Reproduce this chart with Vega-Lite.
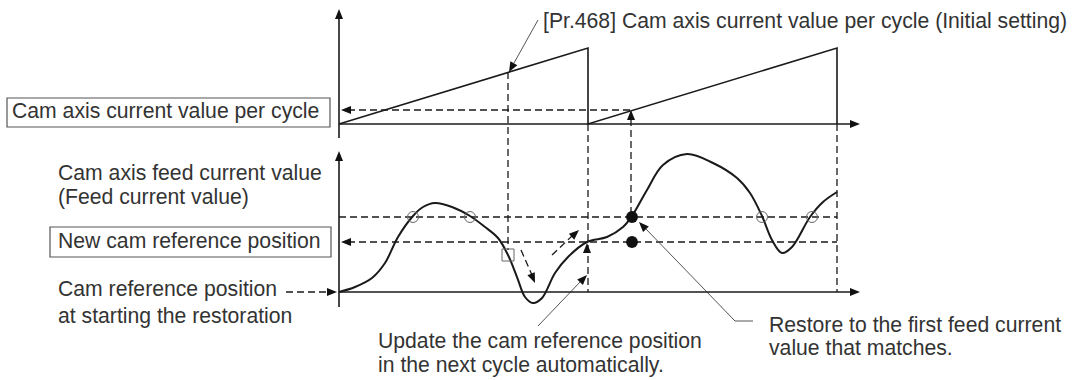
{
  "$schema": "https://vega.github.io/schema/vega-lite/v6.json",
  "width": 1079,
  "height": 380,
  "autosize": {"type": "fit", "contains": "padding"},
  "padding": 0,
  "background": "white",
  "config": {"view": {"stroke": null}},
  "datasets": {
    "solid": [
      {"id": "upper_vaxis", "o": 0, "x": 339, "y": 14},
      {"id": "upper_vaxis", "o": 1, "x": 339, "y": 138},
      {"id": "upper_haxis", "o": 0, "x": 339, "y": 124},
      {"id": "upper_haxis", "o": 1, "x": 852, "y": 124},
      {"id": "lower_vaxis", "o": 0, "x": 339, "y": 156},
      {"id": "lower_vaxis", "o": 1, "x": 339, "y": 307},
      {"id": "lower_haxis", "o": 0, "x": 339, "y": 292},
      {"id": "lower_haxis", "o": 1, "x": 852, "y": 292},
      {"id": "sawtooth", "o": 0, "x": 339, "y": 124},
      {"id": "sawtooth", "o": 1, "x": 588, "y": 48},
      {"id": "sawtooth", "o": 2, "x": 588, "y": 124},
      {"id": "sawtooth", "o": 3, "x": 837, "y": 48},
      {"id": "sawtooth", "o": 4, "x": 837, "y": 124}
    ],
    "curve": [
      {"o": 0, "x": 339, "y": 292},
      {"o": 1, "x": 355, "y": 287},
      {"o": 2, "x": 372, "y": 278},
      {"o": 3, "x": 385, "y": 263},
      {"o": 4, "x": 398, "y": 237},
      {"o": 5, "x": 413, "y": 216},
      {"o": 6, "x": 423, "y": 207},
      {"o": 7, "x": 435, "y": 203},
      {"o": 8, "x": 452, "y": 207},
      {"o": 9, "x": 470, "y": 216},
      {"o": 10, "x": 485, "y": 227},
      {"o": 11, "x": 498, "y": 238},
      {"o": 12, "x": 508, "y": 255},
      {"o": 13, "x": 517, "y": 277},
      {"o": 14, "x": 525, "y": 297},
      {"o": 15, "x": 533, "y": 303},
      {"o": 16, "x": 542, "y": 298},
      {"o": 17, "x": 555, "y": 273},
      {"o": 18, "x": 568, "y": 257},
      {"o": 19, "x": 587, "y": 242},
      {"o": 20, "x": 607, "y": 237},
      {"o": 21, "x": 623, "y": 227},
      {"o": 22, "x": 632, "y": 216},
      {"o": 23, "x": 647, "y": 190},
      {"o": 24, "x": 663, "y": 165},
      {"o": 25, "x": 687, "y": 154},
      {"o": 26, "x": 713, "y": 163},
      {"o": 27, "x": 737, "y": 178},
      {"o": 28, "x": 750, "y": 193},
      {"o": 29, "x": 762, "y": 216},
      {"o": 30, "x": 772, "y": 240},
      {"o": 31, "x": 782, "y": 253},
      {"o": 32, "x": 792, "y": 247},
      {"o": 33, "x": 810, "y": 217},
      {"o": 34, "x": 823, "y": 202},
      {"o": 35, "x": 837, "y": 192}
    ],
    "dashed": [
      {"id": "upper_level", "o": 0, "x": 348, "y": 110},
      {"id": "upper_level", "o": 1, "x": 631, "y": 110},
      {"id": "v_initial", "o": 0, "x": 508, "y": 72},
      {"id": "v_initial", "o": 1, "x": 508, "y": 250},
      {"id": "v_restore", "o": 0, "x": 631, "y": 119},
      {"id": "v_restore", "o": 1, "x": 631, "y": 217},
      {"id": "v_cycle1", "o": 0, "x": 588, "y": 124},
      {"id": "v_cycle1", "o": 1, "x": 588, "y": 292},
      {"id": "v_cycle2", "o": 0, "x": 837, "y": 124},
      {"id": "v_cycle2", "o": 1, "x": 837, "y": 292},
      {"id": "match_level", "o": 0, "x": 339, "y": 217},
      {"id": "match_level", "o": 1, "x": 837, "y": 217},
      {"id": "new_ref_level", "o": 0, "x": 348, "y": 242},
      {"id": "new_ref_level", "o": 1, "x": 837, "y": 242},
      {"id": "start_ref", "o": 0, "x": 286, "y": 292},
      {"id": "start_ref", "o": 1, "x": 328, "y": 292},
      {"id": "jump_down", "o": 0, "x": 521, "y": 250},
      {"id": "jump_down", "o": 1, "x": 532, "y": 275},
      {"id": "jump_up", "o": 0, "x": 552, "y": 255},
      {"id": "jump_up", "o": 1, "x": 572, "y": 236}
    ],
    "leaders": [
      {"id": "pr468", "o": 0, "x": 538, "y": 20},
      {"id": "pr468", "o": 1, "x": 514, "y": 63},
      {"id": "update", "o": 0, "x": 538, "y": 326},
      {"id": "update", "o": 1, "x": 581, "y": 281},
      {"id": "restore", "o": 0, "x": 753, "y": 321},
      {"id": "restore", "o": 1, "x": 735, "y": 321},
      {"id": "restore", "o": 2, "x": 645, "y": 228}
    ],
    "arrows": [
      {"x": 339, "y": 9, "dir": 0},
      {"x": 339, "y": 151, "dir": 0},
      {"x": 860, "y": 124, "dir": 90},
      {"x": 860, "y": 292, "dir": 90},
      {"x": 341, "y": 110, "dir": 270},
      {"x": 631, "y": 110, "dir": 0},
      {"x": 341, "y": 242, "dir": 270},
      {"x": 337, "y": 292, "dir": 90},
      {"x": 587, "y": 243, "dir": 0},
      {"x": 535, "y": 283, "dir": 157},
      {"x": 579, "y": 230, "dir": 48},
      {"x": 509, "y": 72, "dir": 209},
      {"x": 587, "y": 275, "dir": 44},
      {"x": 639, "y": 222, "dir": 316}
    ],
    "rings": [
      {"x": 413, "y": 217},
      {"x": 470, "y": 217},
      {"x": 762, "y": 217},
      {"x": 812, "y": 217}
    ],
    "squares": [
      {"x": 508, "y": 255}
    ],
    "dots": [
      {"x": 632, "y": 217},
      {"x": 632, "y": 242}
    ],
    "boxes": [
      {"x": 7, "x2": 330, "y": 98, "y2": 127},
      {"x": 50, "x2": 331, "y": 227, "y2": 257}
    ],
    "labels": [
      {"x": 543, "y": 28, "t": "[Pr.468] Cam axis current value per cycle (Initial setting)"},
      {"x": 12, "y": 118, "t": "Cam axis current value per cycle"},
      {"x": 58, "y": 180, "t": "Cam axis feed current value"},
      {"x": 58, "y": 204, "t": "(Feed current value)"},
      {"x": 58, "y": 248, "t": "New cam reference position"},
      {"x": 58, "y": 296, "t": "Cam reference position"},
      {"x": 58, "y": 323, "t": "at starting the restoration"},
      {"x": 378, "y": 348, "t": "Update the cam reference position"},
      {"x": 378, "y": 372, "t": "in the next cycle automatically."},
      {"x": 769, "y": 332, "t": "Restore to the first feed current"},
      {"x": 769, "y": 355, "t": "value that matches."}
    ]
  },
  "encoding": {
    "x": {"field": "x", "type": "quantitative", "scale": {"domain": [0, 1079], "nice": false, "zero": false}, "axis": null},
    "y": {"field": "y", "type": "quantitative", "scale": {"domain": [0, 380], "nice": false, "zero": false, "reverse": true}, "axis": null}
  },
  "layer": [
    {
      "data": {"name": "boxes"},
      "mark": {"type": "rect", "fill": "white", "stroke": "#555555", "strokeWidth": 1.2},
      "encoding": {
        "x2": {"field": "x2"},
        "y2": {"field": "y2"}
      }
    },
    {
      "data": {"name": "dashed"},
      "mark": {"type": "line", "color": "#1a1a1a", "strokeWidth": 1.3, "strokeDash": [7, 4]},
      "encoding": {
        "detail": {"field": "id"},
        "order": {"field": "o"}
      }
    },
    {
      "data": {"name": "leaders"},
      "mark": {"type": "line", "color": "#555555", "strokeWidth": 1},
      "encoding": {
        "detail": {"field": "id"},
        "order": {"field": "o"}
      }
    },
    {
      "data": {"name": "solid"},
      "mark": {"type": "line", "color": "#1a1a1a", "strokeWidth": 1.6},
      "encoding": {
        "detail": {"field": "id"},
        "order": {"field": "o"}
      }
    },
    {
      "data": {"name": "curve"},
      "mark": {"type": "line", "color": "#1a1a1a", "strokeWidth": 2, "interpolate": "catmull-rom"},
      "encoding": {
        "order": {"field": "o"}
      }
    },
    {
      "data": {"name": "rings"},
      "mark": {"type": "point", "shape": "circle", "filled": false, "stroke": "#666666", "strokeWidth": 1, "size": 120, "opacity": 1}
    },
    {
      "data": {"name": "squares"},
      "mark": {"type": "point", "shape": "square", "filled": false, "stroke": "#666666", "strokeWidth": 1, "size": 144, "opacity": 1}
    },
    {
      "data": {"name": "dots"},
      "mark": {"type": "point", "shape": "circle", "filled": true, "color": "#111111", "size": 140, "opacity": 1}
    },
    {
      "data": {"name": "arrows"},
      "mark": {"type": "point", "shape": "M0,0L0.8,2L-0.8,2Z", "filled": true, "color": "#111111", "size": 100, "opacity": 1},
      "encoding": {
        "angle": {"field": "dir", "type": "quantitative", "scale": null}
      }
    },
    {
      "data": {"name": "labels"},
      "mark": {"type": "text", "font": "Liberation Sans", "fontSize": 21.2, "color": "#333333", "align": "left", "baseline": "alphabetic"},
      "encoding": {
        "text": {"field": "t"}
      }
    }
  ]
}
